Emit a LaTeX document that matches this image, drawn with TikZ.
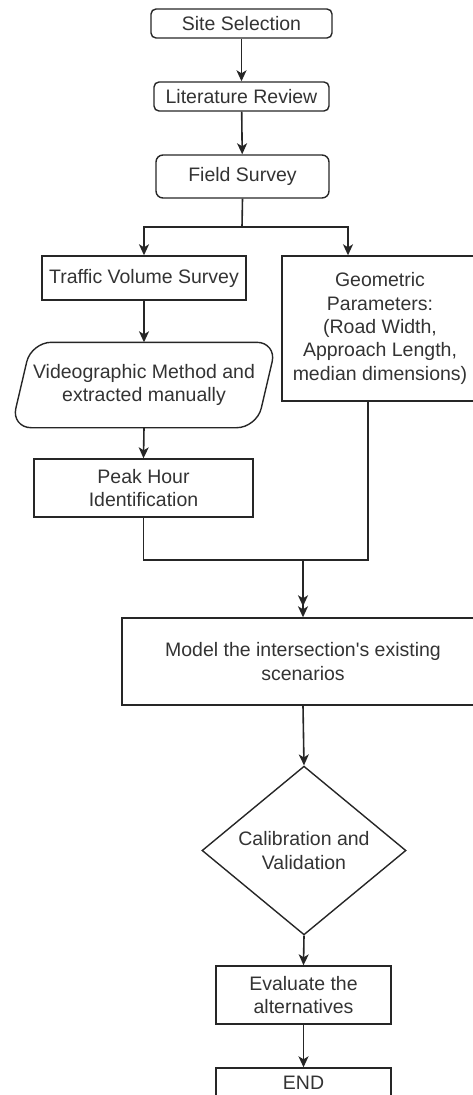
\documentclass[tikz,border=0pt]{standalone}
\usepackage{fontspec}
\setmainfont{Liberation Sans}
\usetikzlibrary{shapes.geometric,arrows.meta,calc}
\begin{document}
\begin{tikzpicture}[x=1pt,y=-1pt,
  font=\fontsize{19.5}{23.3}\selectfont,
  box/.style={draw=black!85, line width=1.4pt, align=center, inner sep=0pt, text=black!80},
  rbox/.style={box, rounded corners=5pt},
  arr/.style={draw=black!85, line width=1.6pt, -{Stealth[length=11pt,width=10pt,inset=3pt]}},
  ln/.style={draw=black!85, line width=1.6pt}]
\useasboundingbox (0,0) rectangle (473,1095);
\clip (0,0) rectangle (473,1095);

\node[rbox, minimum width=181, minimum height=29] (site) at (241.5,23.5) {Site Selection};
\node[rbox, minimum width=175, minimum height=29] (lit) at (241.5,96.5) {Literature Review};
\node[rbox, rounded corners=7pt, minimum width=173, minimum height=43] (field) at (242.5,176.5) {Field Survey};
\node[box, minimum width=204, minimum height=44] (traffic) at (144,278) {Traffic Volume Survey};
\node[box, minimum width=196, minimum height=145] (geo) at (380,328.5) {Geometric\\Parameters:\\(Road Width,\\Approach Length,\\median dimensions)};
\node[box, draw=none, minimum width=264, minimum height=84] (video) at (144,385) {Videographic Method and\\extracted manually};
\draw[box, rounded corners=20pt] (video.north) -- (video.north east) -- ($(video.south east)+(-20,0)$) -- (video.south west) -- ($(video.north west)+(20,0)$) -- (video.north);
\node[box, minimum width=219, minimum height=58] (peak) at (143.5,488) {Peak Hour\\Identification};
\node[box, minimum width=362, minimum height=87] (model) at (303,661.5) {Model the intersection\textquotesingle s existing\\scenarios};
\node[box, shape=diamond, minimum width=204, minimum height=145] (calib) at (304,850.5) {Calibration and\\Validation};
\node[box, minimum width=175, minimum height=58] (eval) at (303.5,995) {Evaluate the\\alternatives};
\node[box, minimum width=175, minimum height=30] (end) at (303.5,1083) {END};

\coordinate (split) at (242,227);
\coordinate (join) at (303,560);

\draw[arr] (site) -- (lit);
\draw[arr] (lit) -- (field);
\draw[ln] (field.south) -- (split);
\draw[arr] (split) -| (traffic.north);
\draw[arr] (split) -| ([xshift=-32pt]geo.north);
\draw[arr] (traffic.south) -- (video.north);
\draw[arr] (video.south) -- (peak.north);
\draw[arr] (peak.south) |- (join) -- (model.north);
\draw[arr] ([xshift=-12pt]geo.south) |- (join) -- ($(model.north)+(0,-11)$);
\draw[arr] (model.south) -- (calib.north);
\draw[arr] (calib.south) -- (eval.north);
\draw[arr] (eval.south) -- (end.north);
\end{tikzpicture}
\end{document}
